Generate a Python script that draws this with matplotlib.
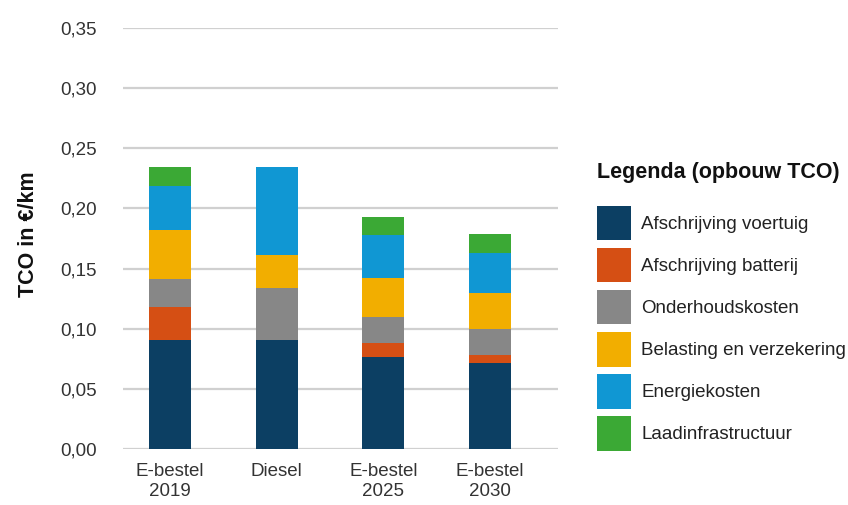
import matplotlib.pyplot as plt
import numpy as np

plt.rcParams['font.family'] = ['Liberation Sans', 'DejaVu Sans']

# categorieën en kostenopbouw (€/km)
categories = ['E-bestel\n2019', 'Diesel', 'E-bestel\n2025', 'E-bestel\n2030']
afschrijving_voertuig = [0.091, 0.091, 0.077, 0.072]
afschrijving_batterij = [0.027, 0.0, 0.011, 0.006]
onderhoudskosten = [0.023, 0.043, 0.022, 0.022]
belasting_verzekering = [0.041, 0.027, 0.032, 0.030]
energiekosten = [0.037, 0.073, 0.036, 0.033]
laadinfrastructuur = [0.015, 0.0, 0.015, 0.016]

series = [
    ('Afschrijving voertuig', afschrijving_voertuig, '#0c3f63'),
    ('Afschrijving batterij', afschrijving_batterij, '#d54f14'),
    ('Onderhoudskosten', onderhoudskosten, '#878787'),
    ('Belasting en verzekering', belasting_verzekering, '#f2ae00'),
    ('Energiekosten', energiekosten, '#1097d3'),
    ('Laadinfrastructuur', laadinfrastructuur, '#3ba935'),
]

fig = plt.figure(figsize=(8.48, 5.05), dpi=100)
ax = fig.add_axes([0.145, 0.1103, 0.5127, 0.8348])

x = np.arange(len(categories))
bottom = np.zeros(len(categories))
for label, vals, color in series:
    ax.bar(x, vals, width=0.39, bottom=bottom, color=color, label=label, zorder=3)
    bottom += np.array(vals)

ax.set_ylim(0, 0.35)
ax.set_xlim(-0.444, 3.638)
ax.set_yticks(np.arange(0, 0.351, 0.05))
ax.set_yticklabels([f'{v:.2f}'.replace('.', ',') for v in np.arange(0, 0.351, 0.05)])
ax.set_xticks(x)
ax.set_xticklabels(categories)
ax.tick_params(axis='y', length=0, pad=19, labelsize=13.5, labelcolor='#333333')
ax.tick_params(axis='x', length=0, pad=10, labelsize=13.5, labelcolor='#333333')
for s in ax.spines.values():
    s.set_visible(False)
ax.grid(axis='y', color='#d0d0d0', linewidth=1.6, zorder=0)

ax.set_ylabel('TCO in €/km', fontsize=15.5, fontweight='bold', color='#111111')
ax.yaxis.set_label_coords(-0.192, 0.511)

fig.text(597 / 848, 1 - 172 / 505, 'Legenda (opbouw TCO)', fontsize=15.5,
         fontweight='bold', color='#111111', ha='left', va='center')
fig.legend(loc='upper left', bbox_to_anchor=(596.7 / 848, 1 - 205.7 / 505),
           frameon=False, fontsize=13.5, handlelength=1.82, handleheight=2.45,
           labelspacing=0.41, handletextpad=0.55, borderpad=0, borderaxespad=0,
           labelcolor='#222222')

plt.savefig('out.png', dpi=100)
